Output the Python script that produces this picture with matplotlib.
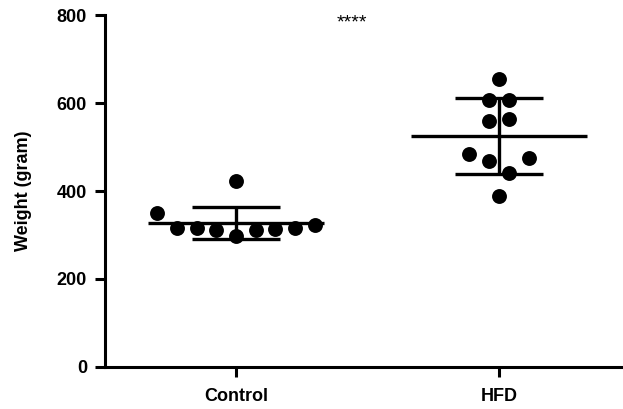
import matplotlib
matplotlib.use('Agg')
import matplotlib.pyplot as plt
import numpy as np

# Данные (вес, г), в порядке ввода
groups = ['Control', 'HFD']
control = [350, 316, 316, 311, 298, 423, 311, 314, 316, 323]
hfd = [655, 607, 607, 559, 564, 484, 468, 441, 475, 389]
y_ticks = [0, 200, 400, 600, 800]
sig_label = '****'

plt.rcParams['font.family'] = ['Liberation Sans', 'DejaVu Sans']
plt.rcParams['font.weight'] = 'bold'

fig = plt.figure(figsize=(6.23, 4.09), dpi=100)
ax = fig.add_axes([0.1685, 0.1027, 0.8315, 0.8606])


def row_offsets(values, bin_w=70, bin_start=10, step=0.075):
    # точки в одной "строке" раздвигаются по горизонтали
    values = np.asarray(values, dtype=float)
    bins = np.floor((values - bin_start) / bin_w).astype(int)
    offs = np.zeros(len(values))
    for b in np.unique(bins):
        idx = np.where(bins == b)[0]
        n = len(idx)
        offs[idx] = (np.arange(n) - (n - 1) / 2) * step
    return offs


for i, vals in enumerate([control, hfd]):
    vals = np.asarray(vals, dtype=float)
    m = vals.mean()
    sd = vals.std(ddof=1)
    x = i + row_offsets(vals)
    ax.scatter(x, vals, s=115, color='black', zorder=3, linewidths=0)
    ax.hlines(m, i - 0.335, i + 0.335, color='black', linewidth=2.4, zorder=2)
    ax.vlines(i, m - sd, m + sd, color='black', linewidth=2.4, zorder=2)
    ax.hlines([m - sd, m + sd], i - 0.167, i + 0.167, color='black', linewidth=2.4, zorder=2)

ax.text(0.44, 781, sig_label, ha='center', va='center', fontsize=14,
        fontweight='normal')

ax.set_xlim(-0.498, 1.471)
ax.set_ylim(0, 800)
ax.set_xticks(range(len(groups)))
ax.set_xticklabels(groups, fontsize=13, fontweight='bold')
ax.set_yticks(y_ticks)
ax.set_yticklabels([str(t) for t in y_ticks], fontsize=13, fontweight='bold')
ax.set_ylabel('Weight (gram)', fontsize=13, fontweight='bold', labelpad=18)

for s in ['top', 'right']:
    ax.spines[s].set_visible(False)
for s in ['left', 'bottom']:
    ax.spines[s].set_linewidth(2.2)
ax.tick_params(axis='both', width=2.2, length=7, direction='out')
ax.tick_params(axis='y', pad=6)
ax.tick_params(axis='x', pad=8)

plt.savefig('out.png', dpi=100)
